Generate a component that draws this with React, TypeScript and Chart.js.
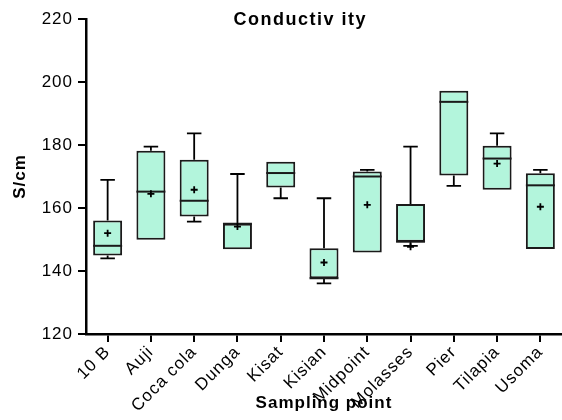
import React, { useEffect, useRef } from "react";
import { Chart, registerables } from "chart.js";

Chart.register(...registerables);

const categories = ["10 B", "Auji", "Coca cola", "Dunga", "Kisat", "Kisian", "Midpoint", "Molasses", "Pier", "Tilapia", "Usoma"];
const mins = [144.0, 149.9, 155.7, 146.9, 163.1, 136.1, 145.9, 148.0, 167.0, 165.8, 147.0];
const q1s = [144.9, 149.9, 157.3, 146.9, 166.5, 137.7, 145.9, 149.3, 170.3, 165.8, 147.0];
const medians = [148.0, 165.2, 162.3, 155.0, 171.1, 137.7, 170.0, 149.3, 193.7, 175.7, 167.2];
const q3s = [156.0, 178.2, 175.3, 155.0, 174.7, 147.2, 171.6, 161.3, 197.2, 179.8, 171.0];
const maxs = [168.9, 179.5, 183.7, 170.8, 174.7, 163.1, 172.1, 179.5, 197.2, 183.7, 172.1];
const means: (number | null)[] = [152.0, 164.5, 165.8, 154.1, null, 142.7, 161.0, 147.7, null, 174.1, 160.4];

const yTicks = [120, 140, 160, 180, 200, 220];

const chartTitle = "Conductiv ity";
const xTitle = "Sampling point";
const yTitle = "S/cm";

const FONT = "Arial, 'Liberation Sans', sans-serif";

const boxPlugin = {
  id: "boxExtras",
  beforeDraw(chart: any) {
    chart.ctx.letterSpacing = "1px";
  },
  beforeDatasetsDraw(chart: any) {
    const ctx = chart.ctx;
    const meta = chart.getDatasetMeta(0);
    const y = chart.scales.y;
    ctx.save();
    ctx.strokeStyle = "#000";
    ctx.lineWidth = 1.8;
    meta.data.forEach((bar: any, i: number) => {
      const x = bar.x;
      const cap = bar.width * 0.25;
      const segs: [number, number][] = [[q3s[i], maxs[i]], [q1s[i], mins[i]]];
      segs.forEach(([a, b]) => {
        if (Math.abs(a - b) < 0.05) return;
        const ya = y.getPixelForValue(a);
        const yb = y.getPixelForValue(b);
        ctx.beginPath();
        ctx.moveTo(x, ya);
        ctx.lineTo(x, yb);
        ctx.moveTo(x - cap, yb);
        ctx.lineTo(x + cap, yb);
        ctx.stroke();
      });
    });
    ctx.restore();
  },
  afterDatasetsDraw(chart: any) {
    const ctx = chart.ctx;
    const meta = chart.getDatasetMeta(0);
    const y = chart.scales.y;
    ctx.save();
    ctx.strokeStyle = "#1a1a1a";
    meta.data.forEach((bar: any, i: number) => {
      const x = bar.x;
      const half = bar.width / 2;
      const ym = y.getPixelForValue(medians[i]);
      ctx.lineWidth = 2;
      ctx.beginPath();
      ctx.moveTo(x - half, ym);
      ctx.lineTo(x + half, ym);
      ctx.stroke();
      const mv = means[i];
      if (mv !== null && mv !== undefined) {
        const yp = y.getPixelForValue(mv);
        ctx.lineWidth = 1.8;
        ctx.strokeStyle = "#000";
        ctx.beginPath();
        ctx.moveTo(x - 3.5, yp);
        ctx.lineTo(x + 3.5, yp);
        ctx.moveTo(x, yp - 3.5);
        ctx.lineTo(x, yp + 3.5);
        ctx.stroke();
        ctx.strokeStyle = "#1a1a1a";
      }
    });
    ctx.restore();
  },
  afterDraw(chart: any) {
    const ctx = chart.ctx;
    const area = chart.chartArea;
    ctx.save();
    ctx.letterSpacing = "1.5px";
    ctx.font = `bold 18px ${FONT}`;
    ctx.fillStyle = "#000";
    ctx.textAlign = "center";
    ctx.textBaseline = "middle";
    ctx.fillText(chartTitle, area.left + (area.right - area.left) * 0.45, area.top + 1);
    ctx.restore();
  },
};

export default function App() {
  const ref = useRef<HTMLCanvasElement | null>(null);
  useEffect(() => {
    if (!ref.current) return;
    const chart = new Chart(ref.current, {
      type: "bar",
      data: {
        labels: categories,
        datasets: [
          {
            data: categories.map((_, i) => [q1s[i], q3s[i]]) as any,
            backgroundColor: "#b3f5dc",
            borderColor: "#1a1a1a",
            borderWidth: 2,
            borderSkipped: false,
            barPercentage: 0.67,
            categoryPercentage: 1,
          },
        ],
      },
      options: {
        animation: false,
        responsive: true,
        maintainAspectRatio: false,
        layout: { padding: { top: 19, right: 0, left: 0, bottom: 0 } },
        plugins: {
          legend: { display: false },
          tooltip: { enabled: false },
          title: { display: false },
        },
        scales: {
          x: {
            grid: {
              offset: false,
              drawOnChartArea: false,
              drawTicks: true,
              tickLength: 8,
              color: "#000",
              lineWidth: 2,
            },
            border: { color: "#000", width: 2.5 },
            ticks: {
              color: "#000",
              font: { family: FONT, size: 17 },
              minRotation: 45,
              maxRotation: 45,
              padding: 0,
              autoSkip: false,
            },
            title: {
              display: true,
              text: xTitle,
              color: "#000",
              font: { family: FONT, size: 17, weight: "bold" },
              padding: { top: 0, bottom: 6 },
            },
            afterFit(scale: any) {
              scale.height = 86;
            },
          },
          y: {
            min: 120,
            max: 220,
            afterBuildTicks(scale: any) {
              scale.ticks = yTicks.map((v) => ({ value: v }));
            },
            grid: {
              drawOnChartArea: false,
              drawTicks: true,
              tickLength: 8,
              color: "#000",
              lineWidth: 2,
            },
            border: { color: "#000", width: 2.5 },
            ticks: {
              color: "#000",
              font: { family: FONT, size: 17 },
              padding: 5,
            },
            title: {
              display: true,
              text: yTitle,
              color: "#000",
              font: { family: FONT, size: 17, weight: "bold" },
              padding: { top: 10, bottom: 0 },
            },
            afterFit(scale: any) {
              scale.width = 86;
            },
          },
        },
      },
      plugins: [boxPlugin],
    });
    return () => chart.destroy();
  }, []);
  return (
    <div style={{ position: "absolute", left: 0, top: 0, width: 562, height: 420 }}>
      <canvas ref={ref} />
    </div>
  );
}
